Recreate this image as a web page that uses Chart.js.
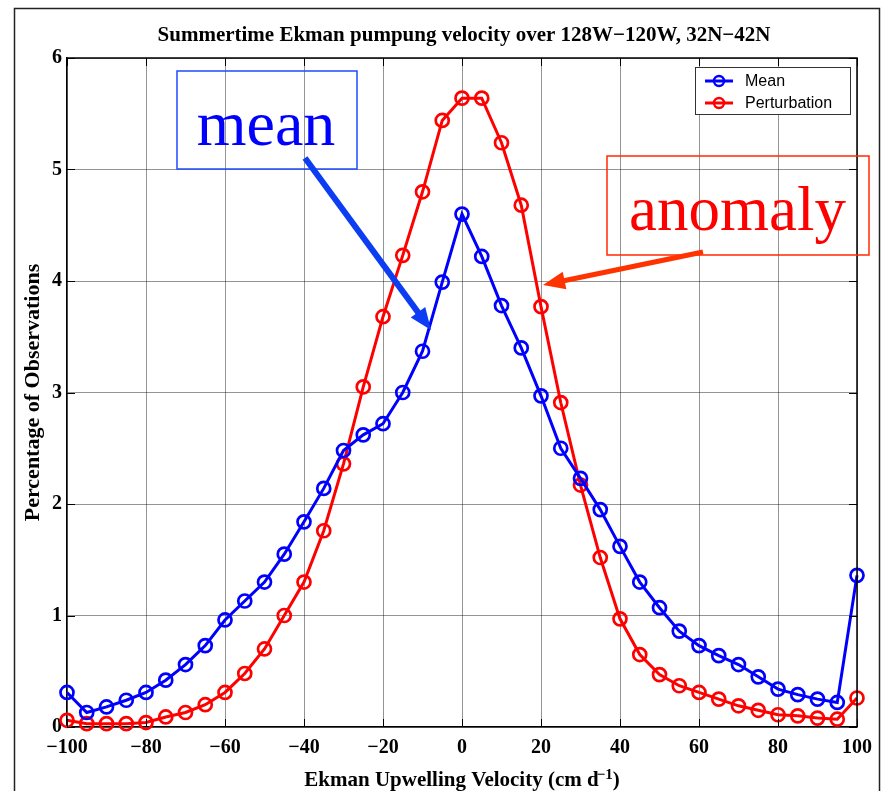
<!DOCTYPE html>
<html><head><meta charset="utf-8">
<script src="https://cdn.jsdelivr.net/npm/chart.js@4.4.1/dist/chart.umd.min.js"></script>
<style>html,body{margin:0;padding:0;background:#fff;}#wrap{width:881px;height:791px;position:relative;}</style>
</head><body><div id="wrap"><canvas id="c" width="881" height="791"></canvas></div>
<script>
// ---- data ----
const velocity = [-100,-95,-90,-85,-80,-75,-70,-65,-60,-55,-50,-45,-40,-35,-30,-25,-20,-15,-10,-5,0,5,10,15,20,25,30,35,40,45,50,55,60,65,70,75,80,85,90,95,100];
const meanValues = [0.31,0.13,0.18,0.24,0.31,0.42,0.56,0.73,0.96,1.13,1.30,1.55,1.84,2.14,2.48,2.62,2.72,3.00,3.37,3.99,4.60,4.22,3.78,3.40,2.97,2.50,2.23,1.95,1.62,1.30,1.07,0.86,0.73,0.64,0.56,0.45,0.34,0.29,0.25,0.22,1.36];
const perturbationValues = [0.06,0.03,0.03,0.03,0.04,0.09,0.13,0.20,0.31,0.48,0.70,1.00,1.30,1.76,2.36,3.05,3.68,4.23,4.80,5.44,5.64,5.64,5.24,4.68,3.77,2.91,2.17,1.52,0.97,0.65,0.47,0.37,0.31,0.25,0.19,0.15,0.11,0.10,0.08,0.07,0.26];
const seriesLabels = ['Mean','Perturbation'];
const xTickValues = [-100,-80,-60,-40,-20,0,20,40,60,80,100];
const yTickValues = [0,1,2,3,4,5,6];
const titleText = 'Summertime Ekman pumpung velocity over 128W\u2212120W, 32N\u221242N';
const xTitleMain = 'Ekman Upwelling Velocity (cm d';
const xTitleSup = '\u22121';
const yTitleText = 'Percentage of Observations';
const noteMean = 'mean';
const noteAnomaly = 'anomaly';

const fmt = v => v < 0 ? '\u2212' + Math.abs(v) : String(v);
const serif = '"Liberation Serif", "Times New Roman", serif';
const sans = '"Liberation Sans", Arial, sans-serif';

function arrow(ctx, x1, y1, x2, y2, color, w, hl, hw) {
  const a = Math.atan2(y2 - y1, x2 - x1);
  const bx = x2 - hl * Math.cos(a), by = y2 - hl * Math.sin(a);
  ctx.save();
  ctx.strokeStyle = color; ctx.fillStyle = color; ctx.lineWidth = w; ctx.lineCap = 'butt';
  ctx.beginPath(); ctx.moveTo(x1, y1); ctx.lineTo(bx + 2*Math.cos(a), by + 2*Math.sin(a)); ctx.stroke();
  ctx.beginPath();
  ctx.moveTo(x2, y2);
  ctx.lineTo(bx + hw * Math.sin(a), by - hw * Math.cos(a));
  ctx.lineTo(bx - hw * Math.sin(a), by + hw * Math.cos(a));
  ctx.closePath(); ctx.fill();
  ctx.restore();
}

const decor = {
  id: 'decor',
  beforeDraw(chart) {
    const ctx = chart.ctx;
    ctx.save(); ctx.fillStyle = '#fff'; ctx.fillRect(0, 0, chart.width, chart.height); ctx.restore();
  },
  afterDraw(chart) {
    const {ctx, chartArea: a, scales: {x, y}} = chart;
    ctx.save();
    // top & right axis lines
    ctx.strokeStyle = '#000'; ctx.lineWidth = 1.5;
    ctx.beginPath();
    ctx.moveTo(a.left, a.top); ctx.lineTo(a.right, a.top); ctx.lineTo(a.right, a.bottom);
    ctx.stroke();
    // inner tick marks
    ctx.lineWidth = 1;
    ctx.beginPath();
    x.ticks.forEach(t => {
      const px = Math.round(x.getPixelForValue(t.value)) + 0.5;
      ctx.moveTo(px, a.bottom); ctx.lineTo(px, a.bottom - 8);
      ctx.moveTo(px, a.top); ctx.lineTo(px, a.top + 8);
    });
    y.ticks.forEach(t => {
      const py = Math.round(y.getPixelForValue(t.value)) + 0.5;
      ctx.moveTo(a.left, py); ctx.lineTo(a.left + 8, py);
      ctx.moveTo(a.right, py); ctx.lineTo(a.right - 8, py);
    });
    ctx.stroke();
    // outer frame
    ctx.strokeStyle = '#222'; ctx.lineWidth = 1.5;
    ctx.strokeRect(14.5, 8.5, 865, 900);
    // title
    ctx.fillStyle = '#000';
    ctx.font = 'bold 21px ' + serif;
    ctx.textAlign = 'center'; ctx.textBaseline = 'alphabetic';
    ctx.fillText(titleText, 464, 41);
    // x-axis title with superscript
    ctx.textAlign = 'left';
    ctx.font = 'bold 21px ' + serif;
    const w1 = ctx.measureText(xTitleMain).width;
    const w3 = ctx.measureText(')').width;
    ctx.font = 'bold 15px ' + serif;
    const w2 = ctx.measureText(xTitleSup).width;
    const total = w1 + w2 + w3 - 2;
    let sx = 462 - total / 2;
    ctx.font = 'bold 21px ' + serif;
    ctx.fillText(xTitleMain, sx, 786);
    ctx.font = 'bold 15px ' + serif;
    ctx.fillText(xTitleSup, sx + w1 - 2, 779);
    ctx.font = 'bold 21px ' + serif;
    ctx.fillText(')', sx + w1 + w2 - 2, 786);
    // legend
    ctx.fillStyle = '#fff';
    ctx.fillRect(695, 67, 155, 47);
    ctx.strokeStyle = '#333'; ctx.lineWidth = 1;
    ctx.strokeRect(695.5, 67.5, 155, 47);
    const rows = [81, 103];
    chart.data.datasets.forEach((ds, i) => {
      const ry = rows[i];
      ctx.strokeStyle = ds.borderColor; ctx.lineWidth = 3;
      ctx.beginPath(); ctx.moveTo(705, ry); ctx.lineTo(733, ry); ctx.stroke();
      ctx.lineWidth = 2.4;
      ctx.beginPath(); ctx.arc(719, ry, 5, 0, Math.PI * 2); ctx.stroke();
      ctx.fillStyle = '#000'; ctx.font = '16px ' + sans;
      ctx.textAlign = 'left'; ctx.textBaseline = 'middle';
      ctx.fillText(ds.label, 745, ry + 1);
    });
    // annotations
    ctx.textBaseline = 'alphabetic'; ctx.textAlign = 'center';
    ctx.strokeStyle = '#1e4bff'; ctx.lineWidth = 1.5;
    ctx.strokeRect(177, 71, 180, 98);
    ctx.fillStyle = '#0000ff'; ctx.font = '64px ' + serif;
    ctx.fillText(noteMean, 266, 145);
    arrow(ctx, 305, 158, 431, 330, '#0d3df2', 6, 22, 9);
    ctx.strokeStyle = '#ff2a00'; ctx.lineWidth = 1.5;
    ctx.strokeRect(607, 156, 262, 99);
    ctx.fillStyle = '#ff0000'; ctx.font = '63px ' + serif;
    ctx.fillText(noteAnomaly, 737.5, 230);
    arrow(ctx, 703, 252, 543, 285, '#ff3300', 5, 22, 9);
    ctx.restore();
  }
};

const mk = (label, vals, color) => ({
  label,
  data: velocity.map((v, i) => ({x: v, y: vals[i]})),
  borderColor: color,
  backgroundColor: color,
  borderWidth: 3,
  pointRadius: 6.5,
  pointBorderWidth: 2.7,
  pointBorderColor: color,
  pointBackgroundColor: 'rgba(0,0,0,0)',
  pointHoverRadius: 6.5,
  tension: 0,
  fill: false,
  clip: false
});

new Chart(document.getElementById('c'), {
  type: 'line',
  data: { datasets: [mk(seriesLabels[0], meanValues, '#0000ff'), mk(seriesLabels[1], perturbationValues, '#ff0000')] },
  options: {
    responsive: false, animation: false, devicePixelRatio: 1,
    layout: { padding: { left: 0, right: 22, top: 58, bottom: 0 } },
    plugins: { legend: { display: false }, title: { display: false }, tooltip: { enabled: false } },
    scales: {
      x: {
        type: 'linear', min: -100, max: 100,
        afterBuildTicks: s => { s.ticks = xTickValues.map(v => ({value: v})); },
        afterFit: s => { s.height = 64; },
        ticks: { callback: v => fmt(v), color: '#000', font: { family: serif, size: 20, weight: 'bold' }, padding: 9, maxRotation: 0, autoSkip: false },
        grid: { color: 'rgba(0,0,0,0.42)', lineWidth: 1, drawTicks: false },
        border: { color: '#000', width: 1.5 }
      },
      y: {
        min: 0, max: 6,
        afterBuildTicks: s => { s.ticks = yTickValues.map(v => ({value: v})); },
        afterFit: s => { s.width = 67; },
        ticks: { callback: v => fmt(v), color: '#000', font: { family: serif, size: 20, weight: 'bold' }, padding: 5 },
        grid: { color: 'rgba(0,0,0,0.42)', lineWidth: 1, drawTicks: false },
        border: { color: '#000', width: 1.5 },
        title: { display: true, text: yTitleText, color: '#000', font: { family: serif, size: 22, weight: 'bold' }, padding: { top: 20, bottom: 0 } }
      }
    }
  },
  plugins: [decor]
});
</script></body></html>
